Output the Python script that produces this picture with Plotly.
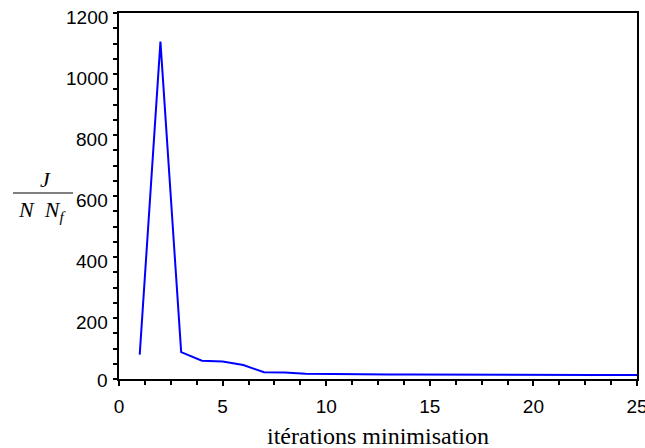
import plotly.graph_objects as go

iterations = list(range(1, 26))
cost = [80, 1106, 88, 60, 57, 46, 22, 21, 17, 16, 16, 15.5, 15, 15, 14.5, 14.5, 14, 14, 14, 13.5, 13.5, 13.5, 13, 13, 13]

x_ticks = [0, 5, 10, 15, 20, 25]
y_ticks = [0, 200, 400, 600, 800, 1000, 1200]

W, H = 645, 448
L, R, T, B = 119, 8, 13, 69
pw = W - L - R
ph = H - T - B

def px_x(p):
    return (p - L) / pw

def px_y(p):
    return (H - B - p) / ph

fig = go.Figure()
fig.add_trace(go.Scatter(x=iterations, y=cost, mode="lines",
                         line=dict(color="#0000ff", width=2), hoverinfo="skip"))

sans = "Liberation Sans, Arial, sans-serif"
serif = "Liberation Serif, Times New Roman, serif"
tickfont = dict(family=sans, size=19, color="black")

fig.update_layout(
    width=W, height=H,
    margin=dict(l=L, r=R, t=T, b=B, autoexpand=False),
    paper_bgcolor="white", plot_bgcolor="white",
    showlegend=False,
    xaxis=dict(range=[0, 25], tickvals=x_ticks, ticktext=[str(v) for v in x_ticks],
               automargin=False,
               showgrid=False, zeroline=False, showline=True, linecolor="black",
               linewidth=2, mirror=True, ticks="outside", ticklen=5, tickwidth=2,
               tickcolor="black", tickfont=tickfont, ticklabelstandoff=4,
               ticklabeloverflow="allow",
               minor=dict(dtick=1.25, tick0=0, ticks="outside", ticklen=4,
                          tickwidth=2, tickcolor="black", showgrid=False)),
    yaxis=dict(range=[0, 1200], tickvals=y_ticks, showticklabels=False,
               automargin=False,
               showgrid=False, zeroline=False, showline=True, linecolor="black",
               linewidth=2, mirror=True, ticks="outside", ticklen=4, tickwidth=2,
               tickcolor="black",
               minor=dict(dtick=50, tick0=0, ticks="outside", ticklen=4,
                          tickwidth=2, tickcolor="black", showgrid=False)),
)

# y tick labels (sit slightly below their ticks, as in the reference)
for v in y_ticks:
    fig.add_annotation(text=str(v), xref="paper", yref="y", x=0, y=v,
                       xanchor="right", yanchor="middle", xshift=-9,
                       yshift=-1 if v == 0 else -4, showarrow=False,
                       font=tickfont)

fig.add_annotation(text="itérations minimisation", xref="paper", yref="paper",
                   x=px_x(378), y=px_y(436), showarrow=False,
                   font=dict(family=serif, size=24, color="black"),
                   xanchor="center", yanchor="middle")

fig.add_annotation(text="<i>J</i>", xref="paper", yref="paper",
                   x=px_x(45), y=px_y(180), showarrow=False,
                   font=dict(family=serif, size=22, color="black"),
                   xanchor="center", yanchor="middle")
fig.add_annotation(text="<i>N</i>\u00a0\u00a0<i>N</i><sub><i>f</i></sub>", xref="paper", yref="paper",
                   x=px_x(42), y=px_y(211), showarrow=False,
                   font=dict(family=serif, size=22, color="black"),
                   xanchor="center", yanchor="middle")
fig.add_shape(type="line", xref="paper", yref="paper",
              x0=px_x(13), x1=px_x(73), y0=px_y(193), y1=px_y(193),
              line=dict(color="black", width=1))

fig.write_html("out.html",
               config={"displayModeBar": False},
               post_script="document.body.style.margin='0';document.body.style.padding='0';document.body.style.overflow='hidden';")
